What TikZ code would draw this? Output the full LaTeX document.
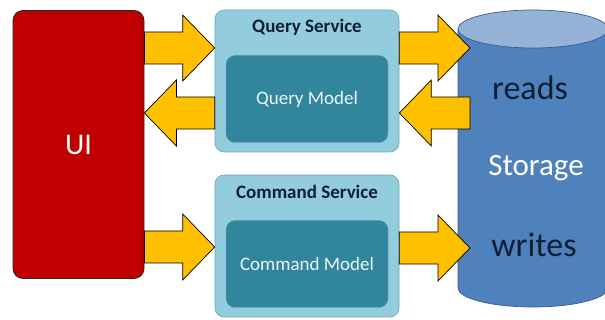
\documentclass[tikz,border=0pt]{standalone}
\usepackage{fontspec}
\setmainfont{Carlito}
\usepackage{tikz}
\usetikzlibrary{calc}
\definecolor{uired}{RGB}{192,0,0}
\definecolor{svcfill}{RGB}{147,205,221}
\definecolor{svcline}{RGB}{105,165,185}
\definecolor{modelfill}{RGB}{49,133,156}
\definecolor{dbbody}{RGB}{79,129,189}
\definecolor{dbtop}{RGB}{149,179,215}
\definecolor{dbline}{RGB}{56,93,138}
\definecolor{arrowfill}{RGB}{255,192,0}
\definecolor{darktext}{RGB}{16,30,52}
\newcommand{\fsize}[1]{\fontsize{#1}{#1}\selectfont}
\tikzstyle{uibox}=[draw=black!85, fill=uired, rounded corners=10pt, line width=0.8pt,
                   minimum width=131pt, minimum height=268pt, text=white, font=\fsize{30}]
\tikzstyle{svcbox}=[draw=svcline, fill=svcfill, rounded corners=9pt, line width=0.6pt,
                    minimum width=184pt, minimum height=142pt]
\tikzstyle{modelbox}=[draw=modelfill!80!white, fill=modelfill, rounded corners=9pt,
                      minimum width=162pt, minimum height=87pt, text=white!92!modelfill, font=\fsize{19}]
\tikzstyle{svctitle}=[font=\bfseries\fsize{19}, text=darktext]
\tikzstyle{fatarrow}=[draw=black, fill=arrowfill, line width=0.7pt, line join=miter]
% block arrow from anchor #1 to anchor #2 at height #3
\newcommand{\fatarrow}[3]{%
  \draw[fatarrow] let \p1=(#1), \p2=(#2), \p3=(0,#3), \n1={(\x2-\x1)/abs(\x2-\x1)} in
    (\x1,\y3+16pt) -- ({\x2-(\n1)*32pt},\y3+16pt) -- ({\x2-(\n1)*32pt},\y3+33pt) -- (\x2,\y3)
    -- ({\x2-(\n1)*32pt},\y3-33pt) -- ({\x2-(\n1)*32pt},\y3-16pt) -- (\x1,\y3-16pt) -- cycle;}
\begin{document}
\begin{tikzpicture}[x=1pt, y=-1pt]
    \useasboundingbox[fill=white] (0,0) rectangle (605,320);
    % storage
    \fill[dbbody, draw=dbline, line width=0.7pt] (458,29) -- (458,288) arc[start angle=180, end angle=360, x radius=75pt, y radius=19pt]
        -- (608,29) -- cycle;
    \draw[fill=dbtop, draw=dbline, line width=0.7pt] (533,29) ellipse[x radius=75pt, y radius=19pt];
    \node[font=\fsize{34}, text=darktext] (reads) at (530,88) {reads};
    \node[font=\fsize{31}, text=white] (storage) at (536,168) {Storage};
    \node[font=\fsize{34}, text=darktext] (writes) at (534,245) {writes};
    \coordinate (dbside) at (470,0);
    % ui and services
    \node[uibox] (ui) at (78.5,144.5) {UI};
    \node[svcbox] (qsvc) at (307,81) {};
    \node[svctitle] (qtitle) at (307,27) {Query Service};
    \node[modelbox] (qmodel) at (307,99) {Query Model};
    \node[svcbox] (csvc) at (307,246) {};
    \node[svctitle] (ctitle) at (307,192) {Command Service};
    \node[modelbox] (cmodel) at (307,264) {Command Model};
    % arrows
    \fatarrow{ui.east}{qsvc.west}{48}
    \fatarrow{qsvc.west}{ui.east}{113}
    \fatarrow{ui.east}{csvc.west}{247}
    \fatarrow{qsvc.east}{dbside}{48}
    \fatarrow{dbside}{qsvc.east}{113}
    \fatarrow{csvc.east}{dbside}{248}
\end{tikzpicture}
\end{document}
